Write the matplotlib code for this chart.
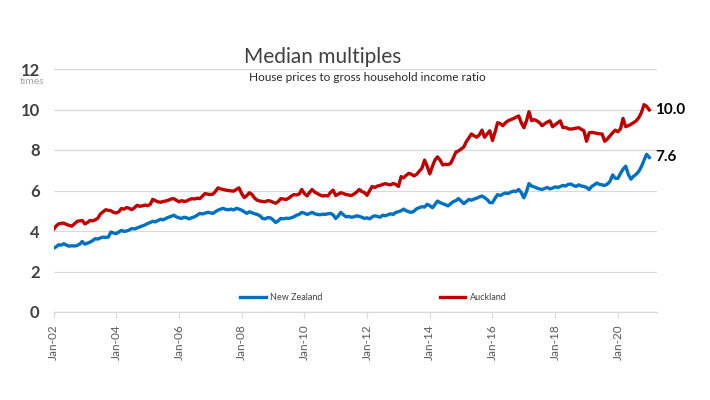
import matplotlib
matplotlib.use("Agg")
import matplotlib.pyplot as plt
import pandas as pd

plt.rcParams['font.family'] = ['Lato', 'DejaVu Sans']

title = "Median multiples"
subtitle = "House prices to gross household income ratio"
series_names = ["New Zealand", "Auckland"]

new_zealand = [
    3.15, 3.22, 3.32, 3.30, 3.37, 3.30, 3.25, 3.27, 3.26, 3.28, 3.35, 3.48,
    3.35, 3.40, 3.45, 3.52, 3.62, 3.60, 3.66, 3.70, 3.68, 3.70, 3.95, 3.90,
    3.87, 3.95, 4.03, 3.98, 4.00, 4.05, 4.12, 4.10, 4.15, 4.20, 4.25, 4.30,
    4.37, 4.42, 4.48, 4.45, 4.52, 4.58, 4.55, 4.62, 4.68, 4.72, 4.78, 4.70,
    4.65, 4.62, 4.68, 4.65, 4.60, 4.66, 4.70, 4.78, 4.87, 4.84, 4.88, 4.92,
    4.90, 4.87, 4.95, 5.03, 5.08, 5.12, 5.06, 5.05, 5.08, 5.04, 5.12, 5.08,
    5.03, 4.95, 4.87, 4.95, 4.90, 4.85, 4.82, 4.75, 4.62, 4.60, 4.66, 4.65,
    4.55, 4.42, 4.50, 4.62, 4.60, 4.63, 4.62, 4.65, 4.70, 4.78, 4.82, 4.92,
    4.88, 4.82, 4.86, 4.92, 4.85, 4.82, 4.80, 4.83, 4.82, 4.85, 4.87, 4.80,
    4.62, 4.75, 4.92, 4.80, 4.70, 4.72, 4.68, 4.70, 4.75, 4.72, 4.68, 4.62,
    4.65, 4.60, 4.70, 4.75, 4.72, 4.68, 4.78, 4.75, 4.80, 4.85, 4.82, 4.92,
    4.95, 5.00, 5.08, 5.00, 4.95, 4.92, 4.98, 5.10, 5.15, 5.20, 5.18, 5.32,
    5.25, 5.15, 5.30, 5.48, 5.40, 5.35, 5.30, 5.24, 5.35, 5.45, 5.50, 5.60,
    5.48, 5.35, 5.45, 5.56, 5.52, 5.58, 5.62, 5.68, 5.73, 5.65, 5.55, 5.40,
    5.40, 5.62, 5.80, 5.75, 5.82, 5.88, 5.85, 5.92, 5.97, 5.95, 6.05, 5.90,
    5.64, 5.95, 6.34, 6.22, 6.18, 6.12, 6.08, 6.05, 6.10, 6.15, 6.08, 6.12,
    6.18, 6.15, 6.20, 6.25, 6.22, 6.30, 6.32, 6.25, 6.20, 6.28, 6.22, 6.20,
    6.15, 6.05, 6.20, 6.28, 6.37, 6.30, 6.28, 6.25, 6.32, 6.45, 6.77, 6.60,
    6.60, 6.85, 7.05, 7.20, 6.80, 6.56, 6.70, 6.80, 6.95, 7.18, 7.50, 7.79,
    7.63,
]

auckland = [
    4.08, 4.25, 4.35, 4.38, 4.39, 4.32, 4.28, 4.24, 4.35, 4.47, 4.50, 4.52,
    4.35, 4.42, 4.52, 4.50, 4.55, 4.63, 4.84, 4.95, 5.05, 5.02, 5.00, 4.92,
    4.89, 4.95, 5.11, 5.08, 5.16, 5.12, 5.05, 5.15, 5.27, 5.22, 5.24, 5.28,
    5.25, 5.32, 5.56, 5.50, 5.44, 5.42, 5.46, 5.48, 5.52, 5.58, 5.60, 5.52,
    5.44, 5.50, 5.46, 5.48, 5.55, 5.60, 5.58, 5.62, 5.60, 5.72, 5.85, 5.82,
    5.80, 5.82, 5.95, 6.13, 6.08, 6.05, 6.02, 6.00, 5.98, 5.97, 6.05, 6.13,
    5.85, 5.65, 5.75, 5.89, 5.80, 5.62, 5.52, 5.48, 5.46, 5.44, 5.50, 5.48,
    5.42, 5.37, 5.45, 5.60, 5.58, 5.55, 5.62, 5.72, 5.80, 5.78, 5.82, 6.05,
    5.85, 5.73, 5.90, 6.05, 5.92, 5.85, 5.78, 5.73, 5.75, 5.73, 5.90, 6.02,
    5.75, 5.82, 5.89, 5.85, 5.80, 5.78, 5.75, 5.82, 5.92, 6.05, 5.95, 5.90,
    5.76, 6.00, 6.20, 6.15, 6.22, 6.25, 6.30, 6.34, 6.30, 6.28, 6.35, 6.30,
    6.20, 6.69, 6.62, 6.75, 6.85, 6.80, 6.72, 6.80, 6.95, 7.10, 7.50, 7.20,
    6.82, 7.20, 7.50, 7.66, 7.50, 7.26, 7.30, 7.28, 7.34, 7.60, 7.90, 7.95,
    8.05, 8.15, 8.40, 8.60, 8.79, 8.70, 8.63, 8.75, 8.98, 8.63, 8.80, 8.95,
    8.47, 8.90, 9.35, 9.30, 9.20, 9.35, 9.44, 9.50, 9.55, 9.62, 9.68, 9.35,
    9.10, 9.45, 9.89, 9.45, 9.50, 9.44, 9.35, 9.20, 9.30, 9.38, 9.44, 9.15,
    9.25, 9.35, 9.44, 9.10, 9.12, 9.05, 9.03, 9.05, 9.08, 9.10, 9.02, 8.95,
    8.43, 8.85, 8.87, 8.85, 8.82, 8.80, 8.79, 8.43, 8.55, 8.70, 8.85, 8.98,
    8.90, 9.05, 9.56, 9.15, 9.20, 9.27, 9.35, 9.44, 9.60, 9.85, 10.24, 10.15,
    9.98,
]

dates = pd.date_range("2002-01-01", periods=len(new_zealand), freq="MS")
tick_dates = pd.date_range("2002-01-01", "2020-01-01", freq="24MS")
tick_labels = [d.strftime("Jan-%y") for d in tick_dates]
y_ticks = [0, 2, 4, 6, 8, 10, 12]

blue = "#0070C0"
red = "#C00000"

fig = plt.figure(figsize=(7.1, 4.0), dpi=100)
ax = fig.add_axes([0.0754, 0.22, 0.85, 0.6075])

ax.plot(dates, new_zealand, color=blue, lw=2.4, label=series_names[0], solid_joinstyle='round')
ax.plot(dates, auckland, color=red, lw=2.4, label=series_names[1], solid_joinstyle='round')

ax.set_ylim(0, 12)
ax.set_xlim(pd.Timestamp("2002-01-01"), pd.Timestamp("2021-04-01"))
ax.set_yticks(y_ticks)
ax.set_yticklabels([str(v) for v in y_ticks], fontsize=12, fontweight='bold', color='#404040')
ax.set_xticks(tick_dates)
ax.set_xticklabels(tick_labels, rotation=90, fontsize=8.5, color='#595959')
ax.tick_params(axis='y', length=0, pad=10)
ax.tick_params(axis='x', length=4, color='#d9d9d9', pad=5)
ax.grid(axis='y', color='#d9d9d9', lw=0.9)
ax.set_axisbelow(True)
for s in ['left', 'right', 'top']:
    ax.spines[s].set_visible(False)
ax.spines['bottom'].set_color('#d9d9d9')
ax.spines['bottom'].set_linewidth(0.9)

fig.text(0.0458, 0.795, "times", fontsize=7.5, color='#a6a6a6', ha='center', va='center')

fig.text(0.455, 0.857, title, fontsize=15, color='#404040', ha='center', va='center')
fig.text(0.351, 0.807, subtitle, fontsize=8.5, color='#262626', ha='left', va='center')

ax.annotate("10.0", xy=(dates[-1], auckland[-1]), xytext=(4, 0), textcoords='offset points',
            fontsize=11, fontweight='bold', color='black', va='center', ha='left')
ax.annotate("7.6", xy=(dates[-1], new_zealand[-1]), xytext=(4, 0), textcoords='offset points',
            fontsize=11, fontweight='bold', color='black', va='center', ha='left')

leg = ax.legend(ncol=2, loc='center', bbox_to_anchor=(0.53, 0.058), frameon=False,
                fontsize=6.5, handlelength=2.8, columnspacing=13.0, handletextpad=0.5)
for t in leg.get_texts():
    t.set_color('#404040')

fig.savefig("out.png", dpi=100)
